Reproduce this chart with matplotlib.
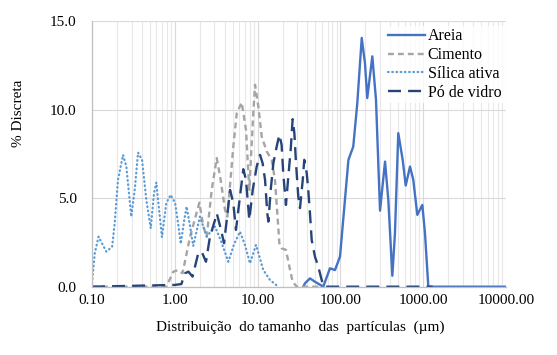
"""Particle size distribution of the mix components (discrete %)."""

import matplotlib

matplotlib.use("Agg")
import matplotlib.pyplot as plt
from matplotlib.ticker import FixedLocator, FuncFormatter, NullFormatter

# series order as in the legend
labels = ["Areia", "Cimento", "Sílica ativa", "Pó de vidro"]

areia_x = [35.6, 37.3, 42.9, 49.3, 62.1, 74.8, 86.0, 98.9, 125, 143, 160, 181, 198, 211,
           243, 269, 301, 346, 379, 424, 456, 500, 565, 615, 693, 759, 849, 976, 1051,
           1153, 10000]
areia_y = [0.0, 0.19, 0.47, 0.28, 0.0, 1.04, 0.94, 1.70, 7.17, 7.92, 10.38, 14.06, 12.64,
           10.66, 13.02, 10.57, 4.30, 7.07, 4.91, 0.62, 3.02, 8.68, 7.17, 5.72, 6.79, 6.04,
           4.06, 4.62, 3.02, 0.0, 0.0]

cimento_x = [0.1, 0.79, 0.96, 1.10, 1.24, 1.53, 1.98, 2.21, 2.43, 2.79, 3.21, 3.58, 4.04,
             4.31, 5.09, 5.60, 6.43, 7.24, 7.94, 8.87, 9.31, 10.2, 11.2, 12.9, 14.8, 16.2,
             17.3, 18.3, 19.5, 22.0, 24.2, 26.5, 29.7, 60.0]
cimento_y = [0.0, 0.0, 0.85, 0.94, 0.76, 2.83, 4.75, 3.40, 2.83, 5.47, 7.27, 6.04, 4.34,
             3.96, 7.92, 9.81, 10.41, 8.87, 5.47, 9.81, 11.41, 10.19, 8.49, 7.64, 7.17,
             6.04, 4.15, 2.46, 2.17, 2.08, 1.13, 0.28, 0.0, 0.0]

silica_x = [0.1, 0.108, 0.120, 0.132, 0.149, 0.175, 0.188, 0.206, 0.237, 0.260, 0.298,
            0.328, 0.360, 0.402, 0.453, 0.512, 0.561, 0.598, 0.640, 0.700, 0.789, 0.891,
            1.01, 1.11, 1.18, 1.30, 1.39, 1.53, 1.67, 2.01, 2.43, 3.06, 3.60, 4.43, 5.20,
            6.12, 7.00, 8.09, 9.57, 11.7, 14.1, 17.8]
silica_y = [0.2, 1.89, 2.83, 2.45, 1.98, 2.26, 3.59, 6.04, 7.45, 6.79, 3.96, 5.47, 7.58,
            7.17, 4.91, 3.30, 5.28, 5.89, 4.53, 2.80, 4.72, 5.19, 4.72, 3.40, 2.42, 3.77,
            4.53, 3.40, 2.30, 3.96, 2.83, 3.40, 2.60, 1.41, 2.40, 3.11, 2.40, 1.32, 2.36,
            0.95, 0.38, 0.0]

vidro_x = [0.1, 1.0, 1.20, 1.33, 1.46, 1.64, 1.92, 2.11, 2.38, 2.66, 3.06, 3.21, 3.58,
           3.93, 4.24, 4.65, 5.09, 5.48, 6.12, 6.72, 7.24, 7.94, 8.73, 9.75, 10.7, 11.5,
           12.3, 13.1, 13.5, 14.4, 15.5, 17.0, 18.3, 19.5, 20.4, 22.0, 23.5, 25.1, 26.5,
           27.8, 29.1, 31.0, 32.5, 35.1, 36.6, 39.2, 40.9, 42.9, 45.0, 49.3, 54.1, 59.4,
           63.4, 1300]
vidro_y = [0.0, 0.1, 0.15, 0.76, 0.85, 0.57, 1.89, 1.98, 1.41, 2.83, 3.77, 4.15, 3.30,
           2.46, 3.77, 5.47, 4.72, 3.21, 5.09, 6.64, 6.04, 3.77, 5.47, 6.79, 7.45, 6.98,
           6.04, 4.15, 3.68, 5.47, 6.98, 7.92, 8.59, 8.02, 6.42, 4.62, 6.23, 7.74, 9.47,
           8.68, 6.98, 5.09, 4.44, 6.04, 7.17, 6.42, 5.47, 4.15, 2.64, 1.70, 1.13, 0.38,
           0.0, 0.0]

x_ticks = [0.1, 1, 10, 100, 1000, 10000]
y_ticks = [0, 5, 10, 15]

plt.rcParams["font.family"] = ["Liberation Serif", "DejaVu Serif"]
plt.rcParams["font.size"] = 11

fig = plt.figure(figsize=(5.57, 3.55), dpi=100)
ax = fig.add_axes([92 / 557, 1 - 286.7 / 355, (506 - 92) / 557, (286.7 - 21.3) / 355])

lw = 1.7
ax.plot(areia_x, areia_y, color="#4472C4", lw=lw, label=labels[0])
ax.plot(cimento_x, cimento_y, color="#A5A5A5", lw=lw, linestyle=(0, (2.5, 1.7)), label=labels[1])
ax.plot(silica_x, silica_y, color="#5B9BD5", lw=1.6, linestyle=(0, (0.3, 1.6)),
        dash_capstyle="round", label=labels[2])
ax.plot(vidro_x, vidro_y, color="#264478", lw=lw, linestyle=(0, (5.5, 3.0)), label=labels[3])

ax.set_xscale("log")
ax.set_xlim(0.1, 10000)
ax.set_ylim(0, 15)
ax.xaxis.set_major_locator(FixedLocator(x_ticks))
minor = [m * 10.0 ** e for e in range(-1, 4) for m in range(2, 10)]
ax.xaxis.set_minor_locator(FixedLocator(minor))
ax.xaxis.set_minor_formatter(NullFormatter())
ax.xaxis.set_major_formatter(FuncFormatter(lambda v, _: f"{v:.2f}"))
ax.set_yticks(y_ticks)
ax.yaxis.set_major_formatter(FuncFormatter(lambda v, _: f"{v:.1f}"))

ax.grid(True, which="major", color="#D9D9D9", lw=0.8)
ax.grid(True, which="minor", axis="x", color="#E8E8E8", lw=0.8)
ax.set_axisbelow(True)
ax.tick_params(which="both", length=0)
ax.tick_params(axis="y", pad=11)
ax.tick_params(axis="x", pad=5)
for side in ["top", "right"]:
    ax.spines[side].set_visible(False)
for side in ["left", "bottom"]:
    ax.spines[side].set_color("#BFBFBF")
    ax.spines[side].set_linewidth(0.9)

fig.text(300 / 557, 1 - 327 / 355, "Distribuição  do tamanho  das  partículas  (µm)",
         ha="center", va="center")
fig.text(18 / 557, 1 - 113 / 355, "% Discreta", rotation=90, ha="center", va="center")

leg = ax.legend(loc="upper left", bbox_to_anchor=(386 / 557, 1 - 26 / 355),
                bbox_transform=fig.transFigure, frameon=True, fancybox=False,
                borderaxespad=0, borderpad=0.15, handlelength=2.3, handletextpad=0.15,
                labelspacing=0.17, fontsize=11.5)
leg.get_frame().set_facecolor("white")
leg.get_frame().set_edgecolor("none")

fig.savefig("out.png", dpi=100)
